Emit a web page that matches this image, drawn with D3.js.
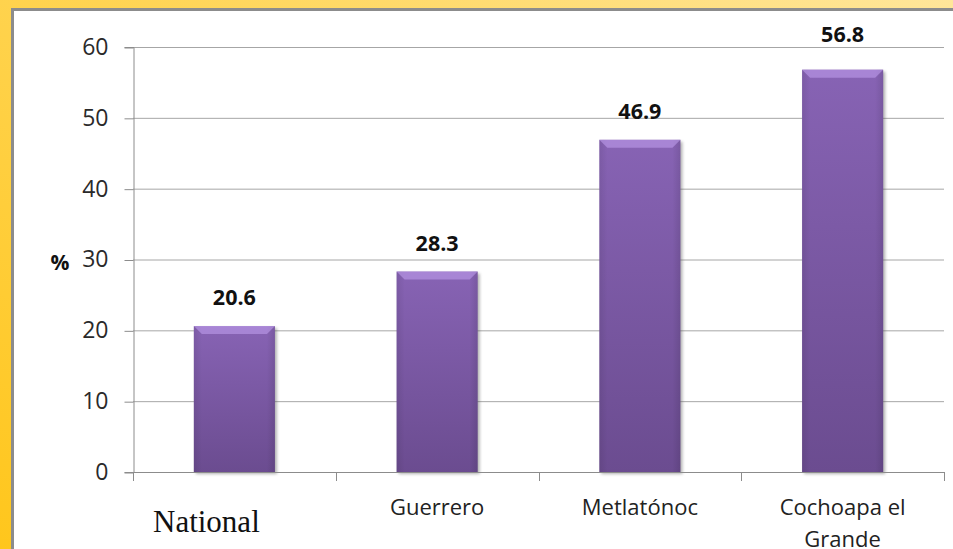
<!DOCTYPE html>
<html>
<head>
<meta charset="utf-8">
<script src="https://cdn.jsdelivr.net/npm/d3@7"></script>
<style>
  body { margin: 0; padding: 0; overflow: hidden; }
</style>
</head>
<body>
<div id="chart"></div>
<script>
// Chart data
const categories = ["National", "Guerrero", "Metlatónoc", "Cochoapa el Grande"];
const values = [20.6, 28.3, 46.9, 56.8];
const yTicks = [0, 10, 20, 30, 40, 50, 60];

// label nudges (px), labels in the original were placed by hand
const labelShift = [0, 0, 0, -7];

const W = 953, H = 549;
const plot = {left: 133, right: 944, top: 47, bottom: 472};

const svg = d3.select("#chart").append("svg")
  .attr("width", W)
  .attr("height", H);

const defs = svg.append("defs");

// yellow frame gradient
const frameGrad = defs.append("linearGradient")
  .attr("id", "frame")
  .attr("x1", "0").attr("y1", "1").attr("x2", "1").attr("y2", "0");
frameGrad.append("stop").attr("offset", "0%").attr("stop-color", "#ffc61c");
frameGrad.append("stop").attr("offset", "55%").attr("stop-color", "#ffd452");
frameGrad.append("stop").attr("offset", "100%").attr("stop-color", "#ffe69a");

// bar gradient
const barGrad = defs.append("linearGradient")
  .attr("id", "bar")
  .attr("x1", "0").attr("y1", "0").attr("x2", "0").attr("y2", "1");
barGrad.append("stop").attr("offset", "0%").attr("stop-color", "#8763b4");
barGrad.append("stop").attr("offset", "100%").attr("stop-color", "#6b4c90");

const sideGrad = defs.append("linearGradient")
  .attr("id", "side")
  .attr("x1", "0").attr("y1", "0").attr("x2", "1").attr("y2", "0");
sideGrad.append("stop").attr("offset", "0%").attr("stop-color", "#000").attr("stop-opacity", 0.08);
sideGrad.append("stop").attr("offset", "10%").attr("stop-color", "#000").attr("stop-opacity", 0);
sideGrad.append("stop").attr("offset", "90%").attr("stop-color", "#000").attr("stop-opacity", 0);
sideGrad.append("stop").attr("offset", "100%").attr("stop-color", "#000").attr("stop-opacity", 0.1);

const blur = defs.append("filter").attr("id", "shadow")
  .attr("x", "-10%").attr("y", "-10%").attr("width", "130%").attr("height", "130%");
blur.append("feGaussianBlur").attr("stdDeviation", 1.5);

// frame
svg.append("rect").attr("width", W).attr("height", H).attr("fill", "url(#frame)");
svg.append("rect")
  .attr("x", 12.5).attr("y", 9.5)
  .attr("width", W).attr("height", H)
  .attr("fill", "#fff")
  .attr("stroke", "#8c8c8c")
  .attr("stroke-width", 3);

// scales
const x = d3.scaleBand()
  .domain(categories)
  .range([plot.left, plot.right])
  .paddingInner(0.6)
  .paddingOuter(0.3);

const y = d3.scaleLinear()
  .domain([0, 60])
  .range([plot.bottom, plot.top]);

// gridlines
svg.append("g")
  .selectAll("line")
  .data(yTicks.filter(d => d > 0))
  .enter()
  .append("line")
  .attr("x1", plot.left).attr("x2", plot.right)
  .attr("y1", d => y(d) + 0.5).attr("y2", d => y(d) + 0.5)
  .attr("stroke", "#a6a6a6")
  .attr("stroke-width", 1);

// y axis
const yAxis = svg.append("g")
  .attr("transform", `translate(${plot.left + 0.5},0)`)
  .call(d3.axisLeft(y).tickValues(yTicks).tickSize(9).tickPadding(16));
yAxis.select(".domain").attr("stroke", "#8c8c8c");
yAxis.selectAll(".tick line").attr("stroke", "#8c8c8c").attr("transform", "translate(0,0.5)");
yAxis.selectAll(".tick text")
  .attr("font-family", "Open Sans, sans-serif")
  .attr("font-size", 23)
  .attr("fill", "#2a2a2a");

// bars
const bars = svg.append("g").selectAll("g")
  .data(values)
  .enter()
  .append("g");

bars.append("rect")
  .attr("x", (d, i) => x(categories[i]) + 2)
  .attr("y", d => y(d) + 2)
  .attr("width", x.bandwidth())
  .attr("height", d => plot.bottom - y(d))
  .attr("fill", "#555")
  .attr("opacity", 0.45)
  .attr("filter", "url(#shadow)");

bars.append("rect")
  .attr("x", (d, i) => x(categories[i]))
  .attr("y", d => y(d))
  .attr("width", x.bandwidth())
  .attr("height", d => plot.bottom - y(d))
  .attr("fill", "url(#bar)");

bars.append("rect")
  .attr("x", (d, i) => x(categories[i]))
  .attr("y", d => y(d))
  .attr("width", x.bandwidth())
  .attr("height", d => plot.bottom - y(d))
  .attr("fill", "url(#side)");

// top bevel
bars.append("path")
  .attr("d", (d, i) => {
    const x0 = x(categories[i]), x1 = x0 + x.bandwidth(), t = y(d), b = 8;
    return `M${x0},${t}L${x1},${t}L${x1 - b},${t + b}L${x0 + b},${t + b}Z`;
  })
  .attr("fill", "#c2a2f0")
  .attr("opacity", 0.55);

// x axis
svg.append("line")
  .attr("x1", plot.left).attr("x2", plot.right)
  .attr("y1", plot.bottom + 0.5).attr("y2", plot.bottom + 0.5)
  .attr("stroke", "#8c8c8c");

const bounds = [plot.left].concat(categories.map(c => x(c) + x.bandwidth() + x.step() * x.paddingInner() / 2));
svg.append("g").selectAll("line")
  .data(bounds)
  .enter()
  .append("line")
  .attr("x1", d => Math.round(d) + 0.5).attr("x2", d => Math.round(d) + 0.5)
  .attr("y1", plot.bottom).attr("y2", plot.bottom + 9)
  .attr("stroke", "#8c8c8c");

// value labels
bars.append("text")
  .attr("x", (d, i) => x(categories[i]) + x.bandwidth() / 2)
  .attr("y", (d, i) => y(d) - 21 + labelShift[i])
  .attr("text-anchor", "middle")
  .attr("font-family", "Open Sans, sans-serif")
  .attr("font-weight", "bold")
  .attr("font-size", 21.5)
  .attr("fill", "#111")
  .text(d => d.toFixed(1));

// category labels
const catLines = [["National"], ["Guerrero"], ["Metlatónoc"], ["Cochoapa el", "Grande"]];
catLines.forEach((lines, i) => {
  const cx = x(categories[i]) + x.bandwidth() / 2;
  if (i === 0) {
    svg.append("text")
      .attr("x", cx - 28)
      .attr("y", 532)
      .attr("text-anchor", "middle")
      .attr("font-family", "Liberation Serif, Times New Roman, serif")
      .attr("font-size", 31)
      .attr("fill", "#111")
      .text(lines[0]);
  } else {
    lines.forEach((l, j) => {
      svg.append("text")
        .attr("x", cx)
        .attr("y", 515 + j * 32)
        .attr("text-anchor", "middle")
        .attr("font-family", "Open Sans, sans-serif")
        .attr("font-size", 22)
        .attr("fill", "#222")
        .text(l);
    });
  }
});

// axis title
svg.append("text")
  .attr("x", 60)
  .attr("y", 270)
  .attr("text-anchor", "middle")
  .attr("font-family", "Open Sans, sans-serif")
  .attr("font-weight", "bold")
  .attr("font-size", 21)
  .attr("fill", "#111")
  .text("%");
</script>
</body>
</html>
